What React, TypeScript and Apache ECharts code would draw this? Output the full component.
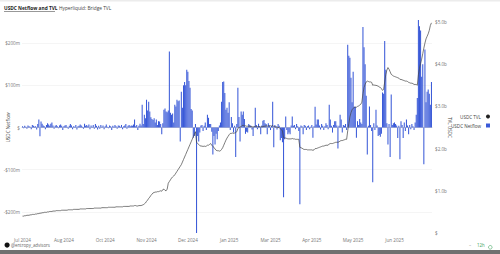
import React, { useEffect, useRef } from 'react';
import * as echarts from 'echarts';

const START_DATE = '2024-07-20';
const DAY_COUNT = 377;

// Daily USDC netflow, $m
const netflowM = [
  3, -2, 4, 2, -3, 5, 3, 2, -4, 6,
  4, 2, 3, -5, 8, 19, -21, 14, 9, 5,
  3, -4, 6, 10, 7, 4, 9, 12, 5, -3,
  4, 6, 3, -2, 5, 7, 4, -6, 3, 5,
  6, 2, -3, 4, 8, 5, -4, 3, 2, 6,
  -5, 3, 4, 7, 5, 2, -3, 9, 4, 6,
  3, 7, -4, 5, 2, 6, -3, 8, 4, -5,
  4, -3, 6, 2, 5, -4, 3, 7, 2, -2,
  5, 3, -6, 4, 2, 6, 3, -3, 5, 4,
  2, 6, -4, 3, 5, 8, -3, 4, 6, 3,
  5, 4, 7, 19, 3, 6, -6, 4, 9, 5,
  54, 8, 30, 22, 66, 40, 61, 38, 24, 20,
  18, 22, 12, 19, 6, 15, 14, 8, -16, 10,
  42, 45, 38, 36, 40, 180, 35, 30, 33, 12,
  54, 50, 66, 62, 64, -33, 85, 47, 100, 108,
  100, 137, 132, 110, 94, 44, 40, -24, -20, 8,
  -250, -20, -33, -12, 5, 6, -8, 4, 12, -6,
  30, 23, 8, 8, -10, -64, -20, -40, -15, -28,
  -8, 5, 12, 61, 108, 109, 82, 42, 47, 35,
  60, -6, 25, 10, -12, 4, -70, 8, 94, 25,
  -33, 38, 30, 38, 20, -15, -10, -12, 8, 6,
  4, -5, -20, 3, 47, 6, -4, 9, 3, -16,
  5, 16, 18, 10, 8, -16, 10, 5, -6, 4,
  61, -47, 6, 3, -5, 8, 4, -30, -25, -35,
  -165, -28, 26, -6, -16, -12, -16, 5, 26, 4,
  6, -4, 8, 3, -8, -182, 5, 3, -16, 6,
  4, -6, 3, 5, -4, 2, 6, -24, 3, 49,
  7, 19, 19, 5, -5, 8, 4, -6, 3, 10,
  6, -4, 54, 19, 4, -12, 6, 15, 15, 5,
  -50, 4, 30, 19, -12, 6, 4, 8, -6, 196,
  170, 165, 118, 60, 132, 49, 49, -24, 15, 6,
  20, 12, 8, 238, 190, 150, 75, -64, 4, 50,
  6, -8, -130, 10, -6, 42, 5, -20, -18, -22,
  -15, 83, 80, 205, 137, 10, -40, 8, -70, 78,
  6, 10, 12, 8, 5, -25, 4, -75, 15, 6,
  -25, 12, -8, 19, 5, -16, 6, -4, 8, 3,
  -6, 12, 30, 70, 255, 240, 230, 120, 150, -87,
  185, 60, 85, 90, 80, 54, 108,
];

// Daily USDC TVL, $b
const tvlB = [
  0.40, 0.40, 0.41, 0.41, 0.42, 0.42, 0.42, 0.43, 0.43, 0.44,
  0.44, 0.44, 0.45, 0.45, 0.46, 0.46, 0.47, 0.47, 0.48, 0.48,
  0.49, 0.49, 0.49, 0.50, 0.50, 0.51, 0.51, 0.51, 0.52, 0.52,
  0.52, 0.53, 0.53, 0.53, 0.53, 0.53, 0.54, 0.54, 0.54, 0.54,
  0.54, 0.54, 0.55, 0.55, 0.55, 0.55, 0.55, 0.56, 0.56, 0.56,
  0.56, 0.56, 0.56, 0.57, 0.57, 0.57, 0.57, 0.57, 0.57, 0.58,
  0.58, 0.58, 0.58, 0.58, 0.58, 0.58, 0.59, 0.59, 0.59, 0.59,
  0.59, 0.59, 0.59, 0.60, 0.60, 0.60, 0.60, 0.60, 0.60, 0.61,
  0.61, 0.61, 0.61, 0.61, 0.61, 0.61, 0.62, 0.62, 0.62, 0.62,
  0.62, 0.62, 0.62, 0.63, 0.63, 0.63, 0.63, 0.63, 0.63, 0.64,
  0.64, 0.64, 0.64, 0.65, 0.65, 0.64, 0.64, 0.65, 0.65, 0.65,
  0.66, 0.67, 0.69, 0.71, 0.75, 0.78, 0.82, 0.85, 0.89, 0.92,
  0.95, 0.96, 0.97, 0.97, 0.98, 0.98, 0.99, 1.00, 0.99, 1.03,
  1.04, 1.01, 1.00, 1.04, 1.18, 1.22, 1.26, 1.30, 1.33, 1.35,
  1.38, 1.42, 1.46, 1.50, 1.54, 1.58, 1.62, 1.68, 1.74, 1.80,
  1.86, 1.92, 1.98, 2.04, 2.10, 2.16, 2.22, 2.28, 2.34, 2.40,
  2.15, 2.12, 2.10, 2.07, 2.06, 2.06, 2.05, 2.06, 2.05, 2.06,
  2.08, 2.08, 2.10, 2.12, 2.08, 2.05, 2.03, 1.99, 1.96, 1.95,
  1.95, 1.94, 1.95, 1.98, 2.02, 2.08, 2.14, 2.20, 2.25, 2.29,
  2.33, 2.36, 2.36, 2.37, 2.36, 2.37, 2.38, 2.40, 2.48, 2.50,
  2.51, 2.52, 2.55, 2.55, 2.54, 2.54, 2.53, 2.53, 2.53, 2.53,
  2.52, 2.52, 2.51, 2.52, 2.53, 2.52, 2.52, 2.52, 2.52, 2.51,
  2.52, 2.52, 2.53, 2.53, 2.54, 2.53, 2.54, 2.54, 2.54, 2.53,
  2.55, 2.52, 2.52, 2.51, 2.51, 2.50, 2.50, 2.47, 2.45, 2.42,
  2.26, 2.25, 2.25, 2.24, 2.23, 2.23, 2.23, 2.23, 2.24, 2.23,
  2.23, 2.22, 2.22, 2.22, 2.22, 2.03, 2.02, 2.01, 1.99, 1.98,
  1.98, 1.98, 1.97, 1.97, 1.97, 1.97, 1.97, 1.96, 1.97, 2.00,
  2.00, 2.01, 2.02, 2.03, 2.04, 2.05, 2.06, 2.06, 2.07, 2.08,
  2.08, 2.08, 2.11, 2.12, 2.12, 2.12, 2.13, 2.14, 2.15, 2.15,
  2.15, 2.16, 2.18, 2.19, 2.19, 2.20, 2.21, 2.22, 2.22, 2.42,
  2.59, 2.75, 2.85, 2.92, 2.95, 2.98, 2.98, 2.98, 3.00, 3.01,
  3.03, 3.05, 3.10, 3.30, 3.45, 3.52, 3.58, 3.60, 3.59, 3.58,
  3.58, 3.57, 3.50, 3.51, 3.50, 3.50, 3.49, 3.48, 3.46, 3.45,
  3.42, 3.38, 3.40, 3.58, 3.75, 3.86, 3.92, 3.88, 3.82, 3.76,
  3.74, 3.72, 3.71, 3.70, 3.69, 3.68, 3.67, 3.64, 3.64, 3.63,
  3.62, 3.61, 3.60, 3.60, 3.59, 3.57, 3.56, 3.55, 3.55, 3.54,
  3.52, 3.52, 3.52, 3.50, 3.75, 3.90, 4.02, 4.12, 4.25, 4.38,
  4.50, 4.60, 4.66, 4.72, 4.80, 4.92, 4.98,
];

const leftTicks = [-200, -100, 0, 100, 200];
const LABEL_EVERY = 38;
const MONTHS = ['Jan', 'Feb', 'Mar', 'Apr', 'May', 'Jun', 'Jul', 'Aug', 'Sep', 'Oct', 'Nov', 'Dec'];

function buildDates(): string[] {
  const out: string[] = [];
  const t0 = Date.parse(START_DATE + 'T00:00:00Z');
  for (let i = 0; i < DAY_COUNT; i++) {
    out.push(new Date(t0 + i * 86400000).toISOString().slice(0, 10));
  }
  return out;
}

const FONT = 'Open Sans';
const BLUE = '#3a5ad8';

export default function App() {
  const ref = useRef<HTMLDivElement>(null);
  useEffect(() => {
    const chart = echarts.init(ref.current!, null, { renderer: 'svg' });
    const dates = buildDates();
    chart.setOption({
      animation: false,
      backgroundColor: '#ffffff',
      textStyle: { fontFamily: FONT },
      grid: { left: 22, right: 68, top: 22, bottom: 21, containLabel: false, outerBoundsMode: 'none' },
      legend: {
        orient: 'vertical',
        right: 5,
        top: 109,
        align: 'right',
        itemWidth: 4,
        itemHeight: 4,
        itemGap: 4,
        textStyle: { fontSize: 4.6, color: '#444', fontFamily: FONT },
        data: [
          { name: 'USDC TVL', icon: 'circle', itemStyle: { color: '#222' } },
          { name: 'USDC Netflow', icon: 'rect', itemStyle: { color: BLUE } },
        ],
      },
      xAxis: {
        type: 'category',
        data: dates,
        boundaryGap: true,
        axisTick: { show: false },
        axisLine: { lineStyle: { color: '#cfcfcf', width: 0.8 } },
        axisLabel: {
          interval: (idx: number) => idx % LABEL_EVERY === 0,
          fontSize: 4.6,
          color: '#777',
          margin: 4,
          fontFamily: FONT,
          formatter: (v: string) => MONTHS[parseInt(v.slice(5, 7), 10) - 1] + ' ' + v.slice(0, 4),
        },
        splitLine: { show: false },
      },
      yAxis: [
        {
          type: 'value',
          position: 'left',
          min: -250,
          max: 250,
          name: 'USDC Netflow',
          nameLocation: 'middle',
          nameGap: 12,
          nameMoveOverlap: false,
          nameTextStyle: { fontSize: 4.6, color: '#444', fontFamily: FONT },
          axisLine: { show: false },
          axisTick: { show: false, customValues: leftTicks },
          axisLabel: {
            customValues: leftTicks,
            fontSize: 4.6,
            color: '#777',
            margin: 2,
            fontFamily: FONT,
            formatter: (v: number) => (v === 0 ? '$' : (v < 0 ? '-$' : '$') + Math.abs(v) + 'm'),
          },
          splitLine: { show: true, lineStyle: { color: '#eeeeee', width: 0.6 } },
        },
        {
          type: 'value',
          position: 'right',
          min: 0,
          max: 5,
          interval: 1,
          name: 'TVL USDC',
          nameLocation: 'middle',
          nameGap: 15,
          nameMoveOverlap: false,
          nameRotate: -90,
          nameTextStyle: { fontSize: 4.6, color: '#444', fontFamily: FONT },
          axisLine: { show: false },
          axisTick: { show: false },
          axisLabel: {
            fontSize: 4.6,
            color: '#777',
            margin: 3,
            fontFamily: FONT,
            formatter: (v: number) => (v === 0 ? '$' : '$' + v.toFixed(1) + 'b'),
          },
          splitLine: { show: false },
        },
      ],
      series: [
        {
          name: 'USDC Netflow',
          type: 'bar',
          yAxisIndex: 0,
          data: netflowM,
          barCategoryGap: '4%',
          itemStyle: { color: BLUE },
          clip: false,
          z: 2,
        },
        {
          name: 'USDC TVL',
          type: 'line',
          yAxisIndex: 1,
          data: tvlB,
          showSymbol: false,
          symbol: 'none',
          lineStyle: { color: '#444', width: 0.7 },
          itemStyle: { color: '#222' },
          clip: false,
          z: 3,
        },
      ],
      graphic: [
        { type: 'rect', left: 0, top: 0, shape: { width: 500, height: 1.5 }, style: { fill: '#ececec' } },
        {
          type: 'text', left: 4, top: 5,
          style: { text: 'USDC Netflow and TVL', fontSize: 4.8, fontWeight: 'bold', fill: '#222', fontFamily: FONT },
        },
        { type: 'rect', left: 4, top: 11.5, shape: { width: 51, height: 0.5 }, style: { fill: '#333' } },
        {
          type: 'text', left: 59, top: 5,
          style: { text: 'Hyperliquid: Bridge TVL', fontSize: 4.8, fill: '#444', fontFamily: FONT },
        },
        { type: 'circle', left: 4.5, top: 242.5, shape: { r: 2.6 }, style: { fill: '#111' } },
        {
          type: 'text', left: 11, top: 242.5,
          style: { text: '@entropy_advisors', fontSize: 4.4, fill: '#666', fontFamily: FONT },
        },
        {
          type: 'text', left: 469, top: 242.5,
          style: { text: '–', fontSize: 4.4, fill: '#999', fontFamily: FONT },
        },
        {
          type: 'text', left: 477, top: 242.5,
          style: { text: '12h', fontSize: 4.4, fill: '#3aa35a', fontFamily: FONT },
        },
        { type: 'circle', left: 486, top: 243, shape: { r: 1.8 }, style: { fill: 'none', stroke: '#3aa35a', lineWidth: 0.6 } },
        { type: 'rect', left: 0, top: 250, shape: { width: 500, height: 4 }, style: { fill: '#707070' } },
      ],
    });
    return () => chart.dispose();
  }, []);
  return (
    <div
      ref={ref}
      style={{ position: 'fixed', left: 0, top: 0, width: 500, height: 254, background: '#fff' }}
    />
  );
}
